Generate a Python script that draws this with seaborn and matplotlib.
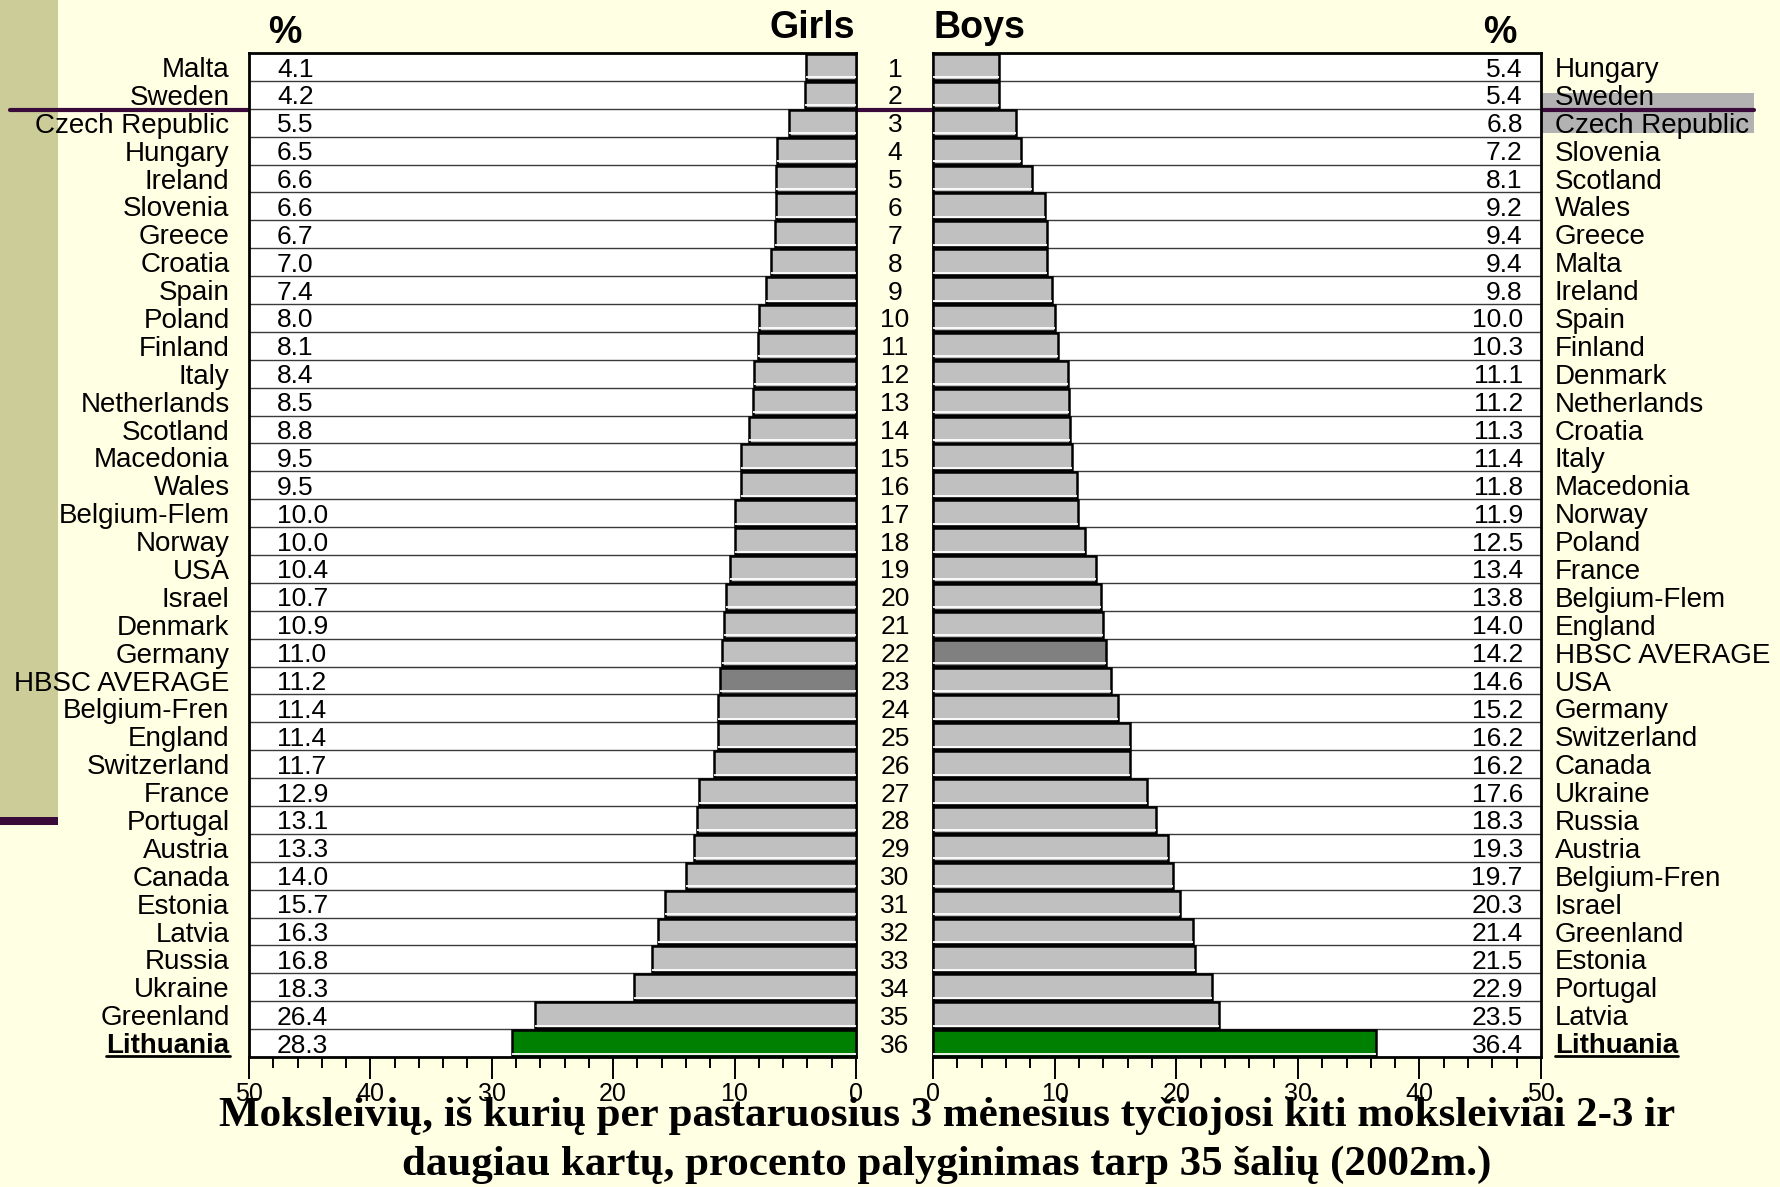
import matplotlib
matplotlib.use('Agg')
import matplotlib.pyplot as plt
import matplotlib.transforms as mtransforms
from matplotlib.patches import Rectangle
from matplotlib.lines import Line2D
from matplotlib.ticker import MultipleLocator
import seaborn as sns
import pandas as pd
import numpy as np

# ---------------- data ----------------
girls_countries = ["Malta", "Sweden", "Czech Republic", "Hungary", "Ireland", "Slovenia",
                   "Greece", "Croatia", "Spain", "Poland", "Finland", "Italy", "Netherlands",
                   "Scotland", "Macedonia", "Wales", "Belgium-Flem", "Norway", "USA", "Israel",
                   "Denmark", "Germany", "HBSC AVERAGE", "Belgium-Fren", "England",
                   "Switzerland", "France", "Portugal", "Austria", "Canada", "Estonia",
                   "Latvia", "Russia", "Ukraine", "Greenland", "Lithuania"]
girls_values = [4.1, 4.2, 5.5, 6.5, 6.6, 6.6, 6.7, 7.0, 7.4, 8.0, 8.1, 8.4, 8.5, 8.8,
                9.5, 9.5, 10.0, 10.0, 10.4, 10.7, 10.9, 11.0, 11.2, 11.4, 11.4, 11.7,
                12.9, 13.1, 13.3, 14.0, 15.7, 16.3, 16.8, 18.3, 26.4, 28.3]

boys_countries = ["Hungary", "Sweden", "Czech Republic", "Slovenia", "Scotland", "Wales",
                  "Greece", "Malta", "Ireland", "Spain", "Finland", "Denmark", "Netherlands",
                  "Croatia", "Italy", "Macedonia", "Norway", "Poland", "France",
                  "Belgium-Flem", "England", "HBSC AVERAGE", "USA", "Germany",
                  "Switzerland", "Canada", "Ukraine", "Russia", "Austria", "Belgium-Fren",
                  "Israel", "Greenland", "Estonia", "Portugal", "Latvia", "Lithuania"]
boys_values = [5.4, 5.4, 6.8, 7.2, 8.1, 9.2, 9.4, 9.4, 9.8, 10.0, 10.3, 11.1, 11.2, 11.3,
               11.4, 11.8, 11.9, 12.5, 13.4, 13.8, 14.0, 14.2, 14.6, 15.2, 16.2, 16.2,
               17.6, 18.3, 19.3, 19.7, 20.3, 21.4, 21.5, 22.9, 23.5, 36.4]

ranks = list(range(1, 37))
x_ticks = [0, 10, 20, 30, 40, 50]

title_lines = ["Moksleivių, iš kurių per pastaruosius 3 mėnesius tyčiojosi kiti moksleiviai 2-3 ir",
               "daugiau kartų, procento palyginimas tarp 35 šalių (2002m.)"]

# ---------------- style ----------------
BG = "#FFFFE3"
OLIVE = "#CCCC99"
PURPLE = "#3A0B3A"
GRAY = "#C0C0C0"
AVG = "#808080"
GREEN = "#008000"
FS_LABEL = 20
FS_VAL = 19

sns.set_theme(style="white")
plt.rcParams["font.family"] = ["Liberation Sans", "DejaVu Sans"]
plt.rcParams["axes.edgecolor"] = "black"
plt.rcParams["text.color"] = "black"
plt.rcParams["xtick.color"] = "black"
plt.rcParams["ytick.color"] = "black"

fig = plt.figure(figsize=(17.81, 11.87), dpi=100, facecolor=BG)

# decorative background
fig.patches.append(Rectangle((0, 0.3117), 0.0326, 0.6883, transform=fig.transFigure,
                             facecolor=OLIVE, edgecolor="none", zorder=-5))
fig.patches.append(Rectangle((0, 0.3050), 0.0326, 0.0070, transform=fig.transFigure,
                             facecolor=PURPLE, edgecolor="none", zorder=-4))
fig.patches.append(Rectangle((0.8658, 0.8880), 0.1190, 0.0337, transform=fig.transFigure,
                             facecolor="#B2B2B2", edgecolor="none", zorder=-3))
fig.lines.append(Line2D([0.0056, 0.9849], [0.9073, 0.9073], transform=fig.transFigure,
                        color=PURPLE, lw=3, zorder=-2))

axL = fig.add_axes([0.1398, 0.1095, 0.3408, 0.8458])
axR = fig.add_axes([0.5239, 0.1095, 0.3414, 0.8458])


def color_for(c):
    if c == "Lithuania":
        return GREEN
    if c == "HBSC AVERAGE":
        return AVG
    return GRAY


for ax, countries, values, vx, ha in [(axL, girls_countries, girls_values, 47.7, "left"),
                                      (axR, boys_countries, boys_values, 48.5, "right")]:
    df = pd.DataFrame({"country": countries, "value": values})
    sns.barplot(data=df, x="value", y="country", hue="country", order=countries,
                hue_order=countries, palette={c: color_for(c) for c in countries},
                legend=False, orient="h", width=0.93, saturation=1,
                edgecolor="black", linewidth=1.8, ax=ax, zorder=3)
    ax.set_facecolor("white")
    n = len(countries)
    ax.hlines(np.arange(0.5, n - 0.5, 1), 0, 50, color="#3A3A3A", lw=1.0, zorder=1)
    ax.set_ylim(n - 0.5, -0.5)
    ax.set_xlabel("")
    ax.set_ylabel("")
    ax.set_xticks(x_ticks)
    ax.set_xticklabels([str(t) for t in x_ticks])
    ax.xaxis.set_minor_locator(MultipleLocator(2))
    ax.tick_params(axis="x", which="major", bottom=True, length=16, width=1.4,
                   direction="out", pad=2, labelsize=18, colors="black")
    ax.tick_params(axis="x", which="minor", bottom=True, length=8, width=1.4,
                   direction="out", colors="black")
    ax.set_yticks(range(n))
    ax.set_yticklabels(countries, fontsize=FS_LABEL)
    for sp in ax.spines.values():
        sp.set_visible(True)
        sp.set_color("black")
        sp.set_linewidth(2)
    for i, v in enumerate(values):
        ax.text(vx, i, f"{v:.1f}", ha=ha, va="center_baseline", fontsize=FS_VAL,
                color="black", zorder=6)
    # white highlight inside bars (3D look)
    for p in ax.patches:
        x0, y0, w, h = p.get_x(), p.get_y(), p.get_width(), p.get_height()
        ybot = max(y0, y0 + h)
        tb = mtransforms.offset_copy(ax.transData, fig=fig, x=0, y=2.5, units="dots")
        ax.add_line(Line2D([x0, x0 + w], [ybot, ybot], transform=tb, color="white",
                           lw=1.3, zorder=4, solid_capstyle="butt"))

axL.set_xlim(50, 0)
axR.set_xlim(0, 50)
axL.tick_params(axis="y", length=0, pad=14)
axR.yaxis.tick_right()
axR.tick_params(axis="y", length=0, pad=10, right=False, left=False)

for lbl in axL.get_yticklabels() + axR.get_yticklabels():
    lbl.set_color("black")
    if lbl.get_text() == "Lithuania":
        lbl.set_fontweight("bold")

# rank numbers between panels
trans = mtransforms.blended_transform_factory(fig.transFigure, axL.transData)
for i, r in enumerate(ranks):
    axL.text(0.5025, i, str(r), transform=trans, ha="center", va="center_baseline",
             fontsize=FS_VAL, color="black", clip_on=False)

# headers
fig.text(0.160, 0.972, "%", ha="center", va="center", fontsize=27, fontweight="bold")
fig.text(0.842, 0.972, "%", ha="center", va="center", fontsize=27, fontweight="bold")
fig.text(0.480, 0.976, "Girls", ha="right", va="center", fontsize=27, fontweight="bold")
fig.text(0.524, 0.976, "Boys", ha="left", va="center", fontsize=27, fontweight="bold")

# title
fig.text(0.5317, 0.051, title_lines[0], ha="center", va="baseline", fontsize=31,
         fontweight="bold", family=["Liberation Serif", "DejaVu Serif"], color="black")
fig.text(0.5317, 0.010, title_lines[1], ha="center", va="baseline", fontsize=31,
         fontweight="bold", family=["Liberation Serif", "DejaVu Serif"], color="black")

# underline bold Lithuania labels
fig.canvas.draw()
renderer = fig.canvas.get_renderer()
inv = fig.transFigure.inverted()
for lbl in axL.get_yticklabels() + axR.get_yticklabels():
    if lbl.get_text() == "Lithuania":
        bb = lbl.get_window_extent(renderer)
        (fx0, fy0), (fx1, fy1) = inv.transform([[bb.x0, bb.y0], [bb.x1, bb.y1]])
        yline = fy0 + 0.12 * (fy1 - fy0)
        fig.lines.append(Line2D([fx0, fx1], [yline, yline], transform=fig.transFigure,
                                color="black", lw=2))

fig.savefig("out.png", dpi=100, facecolor=BG)
